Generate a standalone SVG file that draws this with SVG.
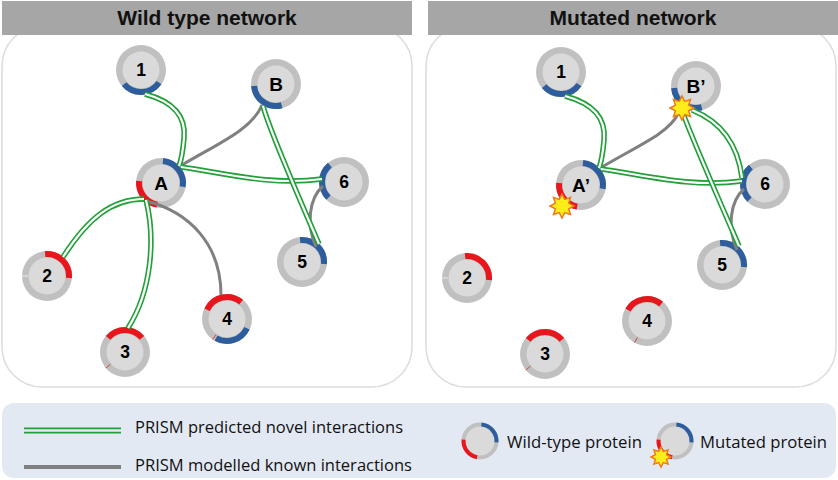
<svg xmlns="http://www.w3.org/2000/svg" xmlns:xlink="http://www.w3.org/1999/xlink" width="838" height="480" viewBox="0 0 838 480">
<style>
.hdr{fill:#a6a6a6}
.panel{fill:#fff;stroke:#dcdcdc;stroke-width:1.5}
.title{font-family:"Liberation Sans",Arial,sans-serif;font-weight:bold;font-size:21px;text-anchor:middle;fill:#111}
.ring{fill:#c0c0c0}
.core{fill:#dadada}
.b{fill:none;stroke:#2e5d9e;stroke-width:6}
.r{fill:none;stroke:#e8161c;stroke-width:6}
.tick{stroke:#d0463a;stroke-width:1}
.wtick{stroke:#ececec;stroke-width:1}
.lbl{font-family:"Liberation Sans",Arial,sans-serif;font-weight:bold;font-size:17.5px;text-anchor:middle;fill:#000}
.big{font-size:19px}
.gout{fill:none;stroke:#22a03a;stroke-width:5.5}
.gin{fill:none;stroke:#fff;stroke-width:2.2}
.known{fill:none;stroke:#808080;stroke-width:3}
.star{fill:#ffec1a;stroke:#f07a1a;stroke-width:1.5}
.leg{font-family:"Open Sans","Liberation Sans",sans-serif;font-size:17px;fill:#111}
.lring{fill:#dadada;stroke:#c0c0c0;stroke-width:4}
.lb{fill:none;stroke:#2e5d9e;stroke-width:4}
.lr{fill:none;stroke:#e8161c;stroke-width:4}
</style>
<defs>
<g id="base"><circle r="25" class="ring"/><circle r="18.5" class="core"/></g>
<polygon id="starshape" points="0,-12 2.76,-6.65 8.49,-8.49 6.65,-2.76 12,0 6.65,2.76 8.49,8.49 2.76,6.65 0,12 -2.76,6.65 -8.49,8.49 -6.65,2.76 -12,0 -6.65,-2.76 -8.49,-8.49 -2.76,-6.65"/>
<polygon id="starsmall" points="0,-10 2.3,-5.54 7.07,-7.07 5.54,-2.3 10,0 5.54,2.3 7.07,7.07 2.3,5.54 0,10 -2.3,5.54 -7.07,7.07 -5.54,2.3 -10,0 -5.54,-2.3 -7.07,-7.07 -2.3,-5.54"/>
<path id="e1" d="M145,94 C175,102 186,117 184,138 C183,150 182,158 179,166"/>
<path id="e3" d="M181,167 C225,173 270,186 322,179"/>
<path id="e4" d="M263,106 C270,132 300,200 319,244"/>
<path id="e6" d="M144,199 C112,199 88,218 63,257"/>
<path id="e7" d="M146,200 C156,240 151,292 128,328"/>
<path id="r1" d="M565,96 C595,104 606,119 604,140 C603,152 602,160 599,168"/>
<path id="r3" d="M601,169 C645,175 690,188 742,181"/>
<path id="r4" d="M683,113 C690,134 720,202 739,246"/>
<path id="r5" d="M692,110 C722,122 738,145 742,178"/>
</defs>

<!-- panels -->
<g id="panel-wild">
<rect class="panel" x="2" y="26" width="410" height="361" rx="40"/>
<rect class="hdr" x="2" y="1" width="410" height="34"/>
<text class="title" x="207" y="25">Wild type network</text>
</g>
<g id="panel-mut">
<rect class="panel" x="426" y="26" width="410" height="361" rx="40"/>
<rect class="hdr" x="428" y="1" width="410" height="34"/>
<text class="title" x="633" y="25">Mutated network</text>
</g>

<!-- wild type nodes -->
<g id="wt-1" transform="translate(141,70)"><use href="#base"/><path class="b" d="M18.02,12.62 A22,22 0 0 1 -16.85,14.14"/><text class="lbl" y="6">1</text></g>
<g id="wt-B" transform="translate(276,84)"><use href="#base"/><path class="b" d="M5.69,21.25 A22,22 0 0 1 -21.92,1.92"/><text class="lbl big" y="7">B</text></g>
<g id="wt-A" transform="translate(161,183)"><use href="#base"/><path class="b" d="M1.92,-21.92 A22,22 0 0 1 21.67,3.82"/><path class="r" d="M-3.82,21.67 A22,22 0 0 1 -21.92,-1.92"/><text class="lbl big" y="7">A</text></g>
<g id="wt-6" transform="translate(344,182)"><use href="#base"/><path class="b" d="M-15.56,15.56 A22,22 0 0 1 -14.14,-16.85"/><text class="lbl" y="6">6</text></g>
<g id="wt-5" transform="translate(302,262)"><use href="#base"/><path class="b" d="M-1.92,-21.92 A22,22 0 0 1 21.92,1.92"/><text class="lbl" y="6">5</text></g>
<g id="wt-2" transform="translate(47,276)"><use href="#base"/><path class="r" d="M-1.92,-21.92 A22,22 0 0 1 21.92,1.92"/><line class="wtick" x1="-19" y1="0" x2="-25" y2="0"/><text class="lbl" y="6">2</text></g>
<g id="wt-3" transform="translate(125,352)"><use href="#base"/><path class="r" d="M-16.85,-14.14 A22,22 0 0 1 16.85,-14.14"/><line class="tick" x1="-14.55" y1="12.21" x2="-19.15" y2="16.07"/><text class="lbl" y="6">3</text></g>
<g id="wt-4" transform="translate(227,319)"><use href="#base"/><path class="r" d="M-19.94,-9.3 A22,22 0 0 1 14.14,-16.85"/><path class="b" d="M19.94,9.3 A22,22 0 0 1 -11,19.05"/><line class="tick" x1="-10.9" y1="15.56" x2="-14.34" y2="20.48"/><text class="lbl" y="6">4</text></g>

<!-- mutated nodes -->
<g id="mut-1" transform="translate(561,72)"><use href="#base"/><path class="b" d="M18.02,12.62 A22,22 0 0 1 -16.85,14.14"/><text class="lbl" y="6">1</text></g>
<g id="mut-B" transform="translate(696,86)"><use href="#base"/><path class="b" d="M5.69,21.25 A22,22 0 0 1 -21.92,1.92"/><text class="lbl big" y="7">B’</text></g>
<g id="mut-A" transform="translate(581,185)"><use href="#base"/><path class="b" d="M1.92,-21.92 A22,22 0 0 1 21.67,3.82"/><path class="r" d="M-3.82,21.67 A22,22 0 0 1 -21.92,-1.92"/><text class="lbl big" y="7">A’</text></g>
<g id="mut-6" transform="translate(765,184)"><use href="#base"/><path class="b" d="M-15.56,15.56 A22,22 0 0 1 -14.14,-16.85"/><text class="lbl" y="6">6</text></g>
<g id="mut-5" transform="translate(722,265)"><use href="#base"/><path class="b" d="M-1.92,-21.92 A22,22 0 0 1 21.92,1.92"/><text class="lbl" y="6">5</text></g>
<g id="mut-2" transform="translate(467,278)"><use href="#base"/><path class="r" d="M-1.92,-21.92 A22,22 0 0 1 21.92,1.92"/><line class="wtick" x1="-19" y1="0" x2="-25" y2="0"/><text class="lbl" y="6">2</text></g>
<g id="mut-3" transform="translate(545,354)"><use href="#base"/><path class="r" d="M-16.85,-14.14 A22,22 0 0 1 16.85,-14.14"/><line class="tick" x1="-14.55" y1="12.21" x2="-19.15" y2="16.07"/><text class="lbl" y="6">3</text></g>
<g id="mut-4" transform="translate(647,321)"><use href="#base"/><path class="r" d="M-19.05,-11 A22,22 0 0 1 14.14,-16.85"/><line class="tick" x1="-9.5" y1="16.45" x2="-12.5" y2="21.65"/><text class="lbl" y="6">4</text></g>

<!-- connectors -->
<g id="connectors">
<path class="known" d="M262,105 C252,130 215,145 182,165"/>
<path class="known" d="M323,186 C309,198 306,225 316,247"/>
<path class="known" d="M146,201 C190,212 221,245 221,295"/>
<use href="#e1" class="gout"/><use href="#e1" class="gin"/>
<use href="#e3" class="gout"/><use href="#e3" class="gin"/>
<use href="#e4" class="gout"/><use href="#e4" class="gin"/>
<use href="#e6" class="gout"/><use href="#e6" class="gin"/>
<use href="#e7" class="gout"/><use href="#e7" class="gin"/>
<path class="known" d="M678,114 C668,134 635,147 602,167"/>
<path class="known" d="M744,189 C730,201 727,228 737,250"/>
<use href="#r1" class="gout"/><use href="#r1" class="gin"/>
<use href="#r3" class="gout"/><use href="#r3" class="gin"/>
<use href="#r4" class="gout"/><use href="#r4" class="gin"/>
<use href="#r5" class="gout"/><use href="#r5" class="gin"/>
</g>

<!-- mutation markers -->
<g id="mutations">
<use href="#starshape" class="star" x="682" y="108"/>
<use href="#starshape" class="star" x="562" y="206"/>
</g>

<!-- legend -->
<g id="legend">
<rect x="2" y="403" width="834" height="75" rx="12" fill="#e3e9f3"/>
<path d="M24,430.5 H121" fill="none" stroke="#22a03a" stroke-width="6"/>
<path d="M24,430.5 H121" fill="none" stroke="#e3e9f3" stroke-width="2.6"/>
<text class="leg" x="135" y="433" textLength="268" lengthAdjust="spacingAndGlyphs">PRISM predicted novel interactions</text>
<path d="M24,467 H121" fill="none" stroke="#808080" stroke-width="4"/>
<text class="leg" x="135" y="471" textLength="277" lengthAdjust="spacingAndGlyphs">PRISM modelled known interactions</text>
<g id="legend-wt" transform="translate(480,441)">
<circle r="16.5" class="lring"/>
<path class="lb" d="M1.4,-16.44 A16.5,16.5 0 0 1 16.44,1.4"/>
<path class="lr" d="M-2.86,16.25 A16.5,16.5 0 0 1 -16.44,-1.4"/>
</g>
<text class="leg" x="507" y="448" textLength="135" lengthAdjust="spacingAndGlyphs">Wild-type protein</text>
<g id="legend-mut" transform="translate(675,441)">
<circle r="16.5" class="lring"/>
<path class="lb" d="M1.4,-16.44 A16.5,16.5 0 0 1 16.44,1.4"/>
<path class="lr" d="M-2.86,16.25 A16.5,16.5 0 0 1 -16.44,-1.4"/>
<use href="#starsmall" class="star" x="-14" y="16"/>
</g>
<text class="leg" x="700" y="448" textLength="127" lengthAdjust="spacingAndGlyphs">Mutated protein</text>
</g>
</svg>
